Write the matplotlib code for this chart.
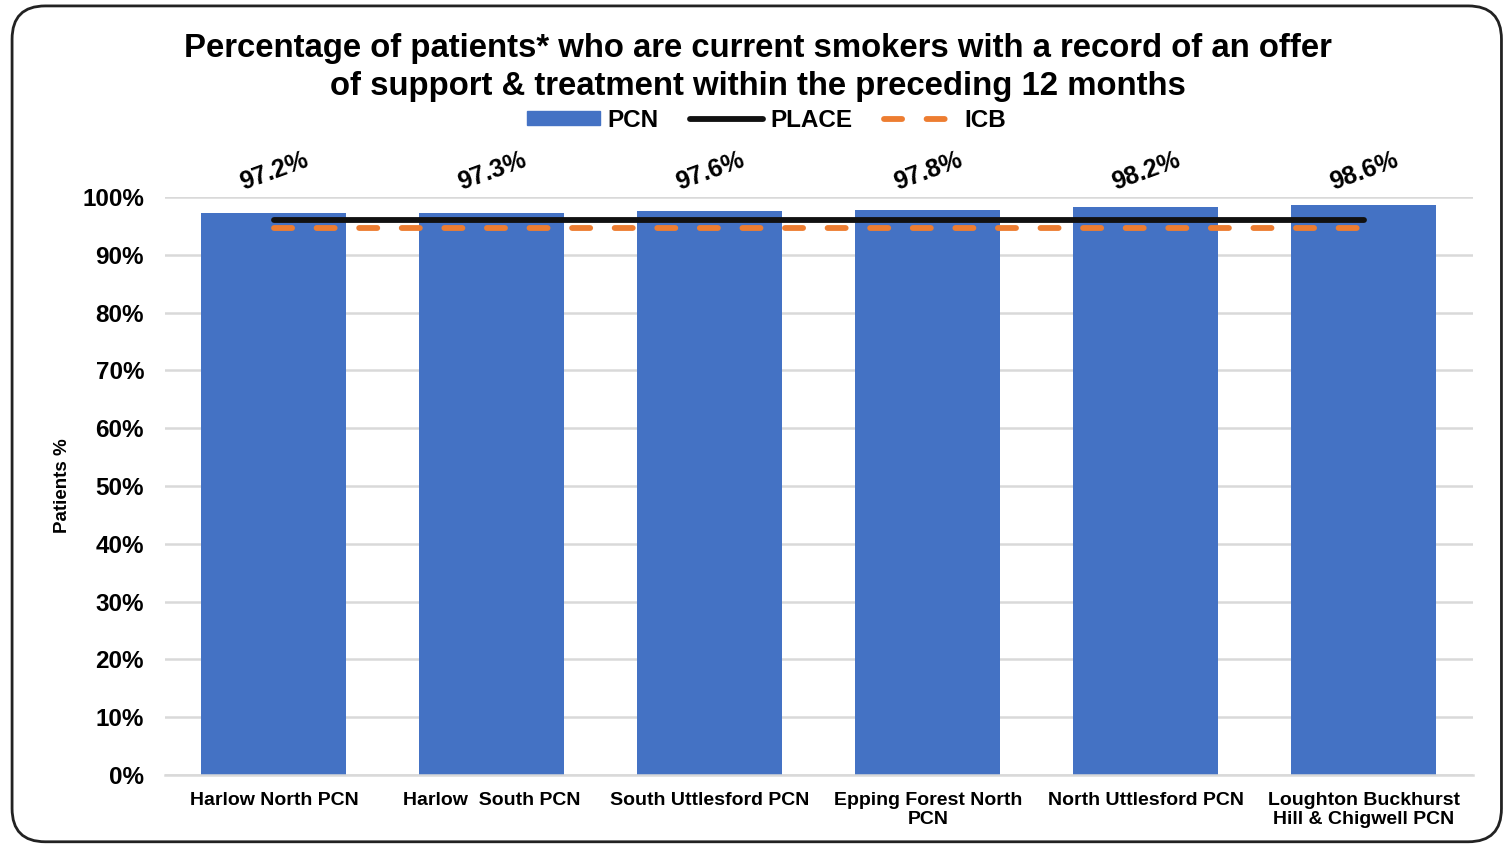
import matplotlib
matplotlib.use("Agg")
import matplotlib.pyplot as plt
from matplotlib.patches import FancyBboxPatch
from matplotlib.lines import Line2D
from matplotlib.ticker import PercentFormatter

plt.rcParams['font.family'] = ['Liberation Sans', 'DejaVu Sans']
plt.rcParams['font.weight'] = 'bold'

pcns = ["Harlow North PCN", "Harlow  South PCN", "South Uttlesford PCN",
        "Epping Forest North\nPCN", "North Uttlesford PCN",
        "Loughton Buckhurst\nHill & Chigwell PCN"]
pcn_pct = [97.2, 97.3, 97.6, 97.8, 98.2, 98.6]
place_pct = 96.0
icb_pct = 94.7

BLUE = "#4472C4"
ORANGE = "#ED7D31"
ICB_DASH = (3.1, 4.2)

fig = plt.figure(figsize=(15.09, 8.46), dpi=100)

# rounded frame around the whole chart
frame = FancyBboxPatch((0.008, 0.005), 0.987, 0.988,
                       boxstyle="round,pad=0,rounding_size=0.022",
                       transform=fig.transFigure, fill=False,
                       edgecolor="#222222", linewidth=2.0,
                       mutation_aspect=1509 / 846)
fig.patches.append(frame)

ax = fig.add_axes([0.1093, 0.0839, 0.8668, 0.6832])
x = list(range(len(pcns)))
ax.bar(x, pcn_pct, width=0.665, color=BLUE, zorder=2)
ax.plot([x[0], x[-1]], [place_pct, place_pct], color="#111111",
        linewidth=4.2, solid_capstyle="round", zorder=3)
ax.plot([x[0], x[-1]], [icb_pct, icb_pct], color=ORANGE,
        linewidth=4.2, dashes=ICB_DASH, dash_capstyle="round", zorder=3)

for xi, v in zip(x, pcn_pct):
    ax.text(xi, 104.4, f"{v:.1f}%", ha="center", va="center",
            rotation=20, fontsize=18, fontweight="bold", clip_on=False)

ax.set_xlim(-0.5, len(pcns) - 0.5)
ax.set_ylim(0, 100)
ax.set_yticks(range(0, 101, 10))
ax.yaxis.set_major_formatter(PercentFormatter(decimals=0))
ax.set_xticks(x)
ax.set_xticklabels(pcns, fontsize=14, fontweight="bold", linespacing=1.2)
ax.tick_params(axis="y", labelsize=17.5, length=0, pad=15)
ax.tick_params(axis="x", length=0, pad=12)
ax.grid(axis="y", color="#D9D9D9", linewidth=1.8, zorder=0)
ax.set_axisbelow(True)
for side in ["top", "right", "left"]:
    ax.spines[side].set_visible(False)
ax.spines["bottom"].set_color("#D9D9D9")
ax.spines["bottom"].set_linewidth(1.8)
ax.set_ylabel("Patients %", fontsize=13.5, fontweight="bold", labelpad=8)

fig.text(0.502, 0.9205,
         "Percentage of patients* who are current smokers with a record of an offer\n"
         "of support & treatment within the preceding 12 months",
         ha="center", va="center", fontsize=23.7, fontweight="bold", linespacing=1.3)

handles = [
    plt.Rectangle((0, 0), 1, 1, color=BLUE),
    Line2D([], [], color="#111111", linewidth=4.2, solid_capstyle="round"),
    Line2D([], [], color=ORANGE, linewidth=4.2, dashes=ICB_DASH, dash_capstyle="round"),
]
fig.legend(handles, ["PCN", "PLACE", "ICB"], loc="center", bbox_to_anchor=(0.508, 0.858),
           ncol=3, frameon=False, fontsize=17.5, handlelength=3.0, handleheight=0.55,
           columnspacing=1.3, handletextpad=0.3)

fig.savefig("out.png", dpi=100)
